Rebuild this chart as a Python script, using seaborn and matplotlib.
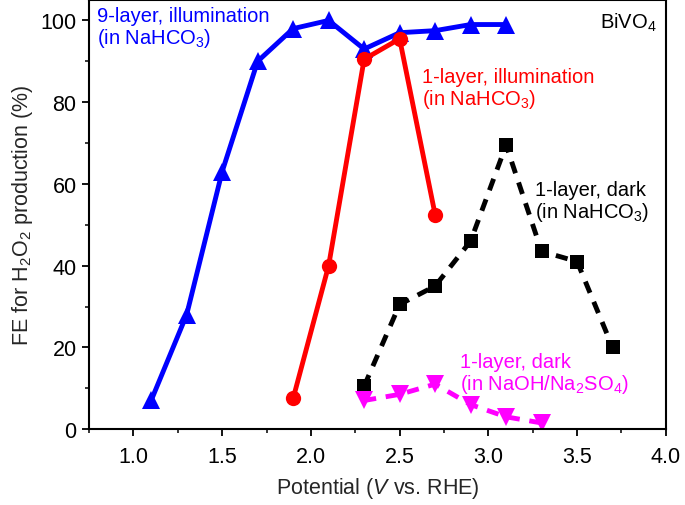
import matplotlib
matplotlib.use("Agg")
import matplotlib.pyplot as plt
import seaborn as sns
import pandas as pd
from matplotlib.ticker import MultipleLocator

sns.set_theme(style="ticks")
plt.rcParams['font.family'] = ['Liberation Sans', 'DejaVu Sans']
plt.rcParams['mathtext.fontset'] = 'custom'
plt.rcParams['mathtext.rm'] = 'Liberation Sans'
plt.rcParams['mathtext.it'] = 'Liberation Sans:italic'

x9 = [1.1, 1.3, 1.5, 1.7, 1.9, 2.1, 2.3, 2.5, 2.7, 2.9, 3.1]
y9 = [7, 28, 63, 90, 98, 100, 93, 97, 97.5, 99, 99]
x1L = [1.9, 2.1, 2.3, 2.5, 2.7]
y1L = [7.5, 40, 90.5, 95.5, 52.5]
x1D = [2.3, 2.5, 2.7, 2.9, 3.1, 3.3, 3.5, 3.7]
y1D = [10.5, 30.5, 35, 46, 69.5, 43.5, 41, 20]
x1S = [2.3, 2.5, 2.7, 2.9, 3.1, 3.3]
y1S = [7, 8.5, 11, 6, 3, 1.5]

fig = plt.figure(figsize=(6.85, 5.06), dpi=100)
ax = fig.add_axes([0.13, 0.150, 0.842, 0.848])

def draw(x, y, color, marker, ms, ls):
    df = pd.DataFrame({"x": x, "y": y})
    sns.lineplot(data=df, x="x", y="y", ax=ax, color=color, marker=marker,
                 markersize=ms, linewidth=3.5, linestyle=ls,
                 markeredgecolor=color, markeredgewidth=0)
    if ls == "--":
        ax.lines[-1].set_dashes((2.5, 2.0))

draw(x9, y9, "#0000ff", "^", 12.5, "-")
draw(x1L, y1L, "#ff0000", "o", 11, "-")
draw(x1D, y1D, "#000000", "s", 10, "--")
draw(x1S, y1S, "#ff00ff", "v", 12.5, "--")

ax.set_xlim(0.75, 4.0)
ax.set_ylim(0, 105)
ax.xaxis.set_minor_locator(MultipleLocator(0.25))
ax.yaxis.set_major_locator(MultipleLocator(20))
ax.yaxis.set_minor_locator(MultipleLocator(10))
ax.set_xticks([1.0, 1.5, 2.0, 2.5, 3.0, 3.5, 4.0])
ax.set_xticklabels(["1.0", "1.5", "2.0", "2.5", "3.0", "3.5", "4.0"])
ax.tick_params(axis="both", which="major", direction="out", length=5, width=1.3,
               labelsize=15.5, colors="black", pad=4)
ax.tick_params(axis="x", which="major", pad=7)
ax.tick_params(axis="both", which="minor", direction="out", length=3, width=1.3)
for s in ax.spines.values():
    s.set_linewidth(1.5)
    s.set_color("black")

ax.set_xlabel("Potential ($V$ vs. RHE)", fontsize=15.5, labelpad=6)
ax.set_ylabel("FE for H$_2$O$_2$ production (%)", fontsize=15.5, labelpad=4)

fs = 14.5
ax.text(0.795, 103.5, "9-layer, illumination\n(in NaHCO$_3$)", color="#0000ff",
        fontsize=fs, va="top", ha="left", linespacing=1.05)
ax.text(2.627, 88.5, "1-layer, illumination\n(in NaHCO$_3$)", color="#ff0000",
        fontsize=fs, va="top", ha="left", linespacing=1.05)
ax.text(3.264, 61, "1-layer, dark\n(in NaHCO$_3$)", color="#000000",
        fontsize=fs, va="top", ha="left", linespacing=1.05)
ax.text(2.84, 18.8, "1-layer, dark\n(in NaOH/Na$_2$SO$_4$)", color="#ff00ff",
        fontsize=fs, va="top", ha="left", linespacing=1.05)
ax.text(3.95, 102.5, "BiVO$_4$", color="black", fontsize=fs, va="top", ha="right")

fig.savefig("out.png", dpi=100)
